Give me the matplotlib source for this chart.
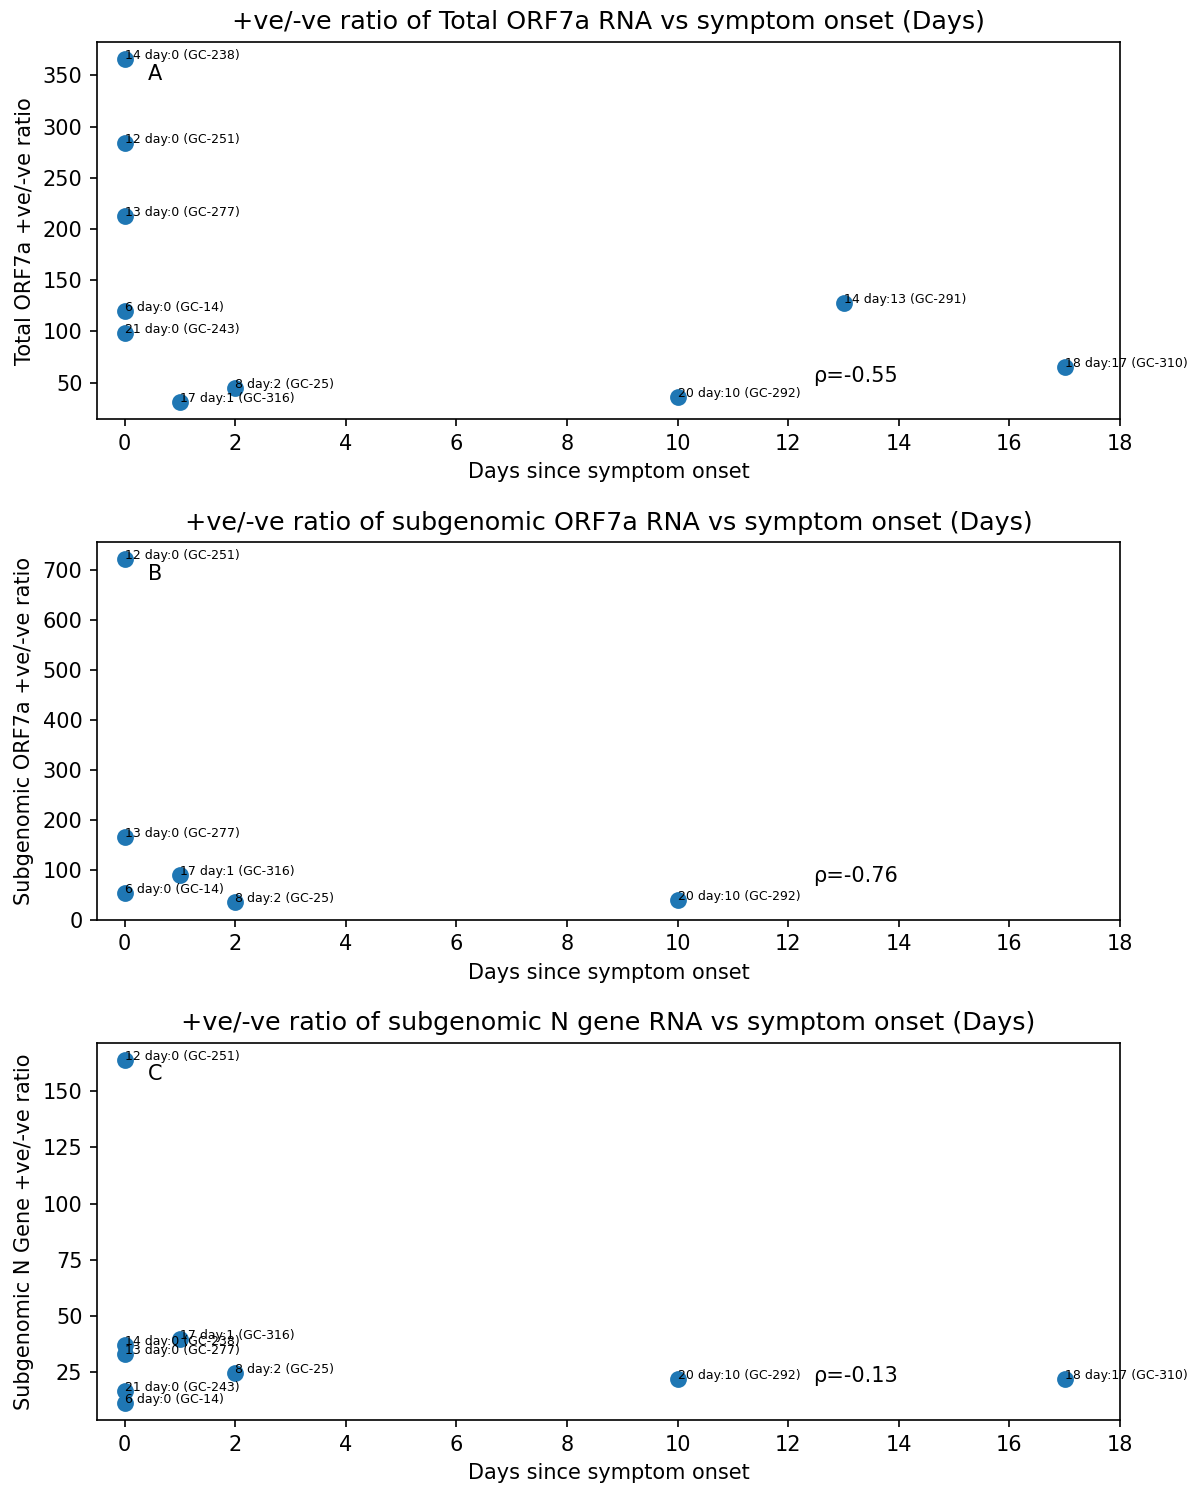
import matplotlib
matplotlib.use('Agg')
import matplotlib.pyplot as plt

# ── Data ────────────────────────────────────────────────────────────────────
# panel A: total ORF7a
a_labels = ["14 day:0 (GC-238)", "12 day:0 (GC-251)", "13 day:0 (GC-277)",
            "6 day:0 (GC-14)", "21 day:0 (GC-243)", "8 day:2 (GC-25)",
            "17 day:1 (GC-316)", "14 day:13 (GC-291)", "20 day:10 (GC-292)",
            "18 day:17 (GC-310)"]
a_days  = [0, 0, 0, 0, 0, 2, 1, 13, 10, 17]
a_ratio = [366, 284, 213, 120, 99, 45, 31, 128, 36, 65]

# panel B: subgenomic ORF7a
b_labels = ["12 day:0 (GC-251)", "13 day:0 (GC-277)", "17 day:1 (GC-316)",
            "6 day:0 (GC-14)", "8 day:2 (GC-25)", "20 day:10 (GC-292)"]
b_days  = [0, 0, 1, 0, 2, 10]
b_ratio = [722, 166, 90, 54, 36, 40]

# panel C: subgenomic N gene
c_labels = ["12 day:0 (GC-251)", "17 day:1 (GC-316)", "14 day:0 (GC-238)",
            "13 day:0 (GC-277)", "8 day:2 (GC-25)", "21 day:0 (GC-243)",
            "6 day:0 (GC-14)", "20 day:10 (GC-292)", "18 day:17 (GC-310)"]
c_days  = [0, 1, 0, 0, 2, 0, 0, 10, 17]
c_ratio = [164, 39.6, 37, 33.2, 24.4, 16.6, 11.3, 22, 22]

panels = [
    ("+ve/-ve ratio of Total ORF7a RNA vs symptom onset (Days)",
     "Total ORF7a +ve/-ve ratio", a_labels, a_days, a_ratio, "ρ=-0.55", "A"),
    ("+ve/-ve ratio of subgenomic ORF7a RNA vs symptom onset (Days)",
     "Subgenomic ORF7a +ve/-ve ratio", b_labels, b_days, b_ratio, "ρ=-0.76", "B"),
    ("+ve/-ve ratio of subgenomic N gene RNA vs symptom onset (Days)",
     "Subgenomic N Gene +ve/-ve ratio", c_labels, c_days, c_ratio, "ρ=-0.13", "C"),
]

fig, axes = plt.subplots(3, 1, figsize=(1193 / 150, 1488 / 150), dpi=150)
fig.subplots_adjust(left=0.0813, right=0.9388, top=0.9718, bottom=0.0457, hspace=0.326)

for ax, (title, ylab, labels, days, ratio, rho, letter) in zip(axes, panels):
    ax.scatter(days, ratio, s=50, color="#1f77b4")
    for lab, x, y in zip(labels, days, ratio):
        ax.annotate(lab, (x, y), fontsize=6)
    ax.set_xlim(-0.5, 18)
    ax.set_xticks(range(0, 19, 2))
    ax.set_title(title, fontsize=12.2)
    ax.set_xlabel("Days since symptom onset")
    ax.set_ylabel(ylab)
    ax.text(0.70, 0.10, rho, transform=ax.transAxes, fontsize=10)
    ax.text(0.05, 0.90, letter, transform=ax.transAxes, fontsize=10)

axes[1].set_ylim(bottom=0)
axes[2].set_yticks(range(25, 151, 25))

plt.savefig("out.png", dpi=150)
